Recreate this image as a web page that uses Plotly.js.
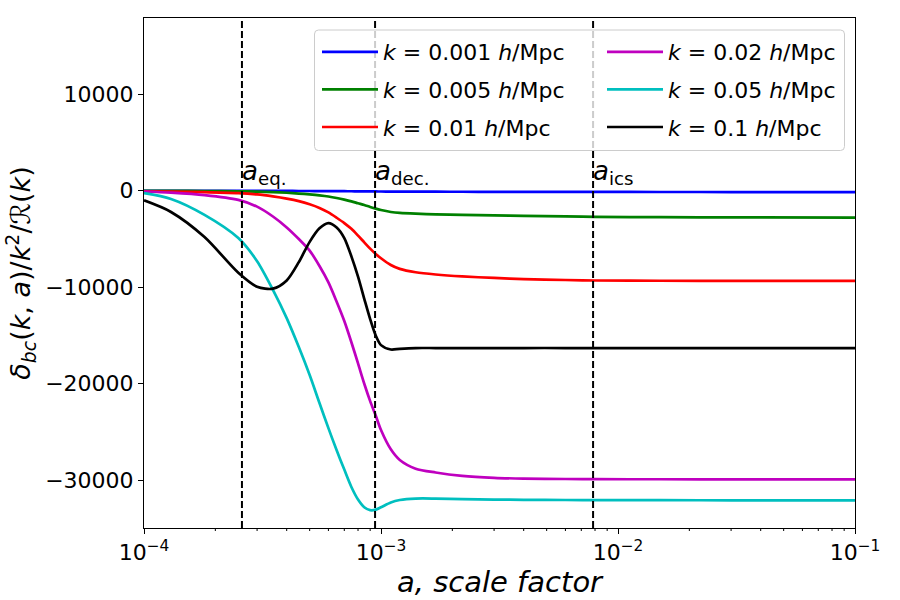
<!DOCTYPE html>
<html>
<head>
<meta charset="utf-8">
<script src="https://cdn.plot.ly/plotly-3.0.1.min.js"></script>
<style>html,body{margin:0;padding:0;background:#fff;}#chart{width:900px;height:600px;}</style>
</head>
<body>
<div id="chart"></div>
<script>
// scale factor grid
const scaleFactor = [1e-4, 1.3e-4, 1.8e-4, 2.5e-4, 3e-4, 3.5e-4, 4e-4, 4.5e-4, 5e-4, 5.5e-4, 6e-4, 6.5e-4, 7e-4, 7.5e-4, 8e-4, 8.5e-4, 9e-4, 9.5e-4, 1e-3, 1.1e-3, 1.2e-3, 1.4e-3, 1.7e-3, 2.2e-3, 3e-3, 4e-3, 6e-3, 8e-3, 1.5e-2, 3e-2, 1e-1];

const k0001 = [0, 0, 0, -5, -10, -15, -20, -25, -30, -35, -40, -45, -50, -55, -60, -65, -70, -75, -80, -85, -90, -95, -100, -105, -110, -115, -120, -125, -130, -135, -140];
const k0005 = [-10, -15, -30, -60, -100, -150, -210, -290, -380, -480, -600, -750, -920, -1100, -1300, -1480, -1680, -1850, -2000, -2200, -2300, -2380, -2440, -2500, -2560, -2610, -2660, -2700, -2740, -2760, -2780];
const k001 = [-60, -90, -150, -240, -380, -590, -820, -1080, -1400, -1780, -2250, -2800, -3350, -3950, -4650, -5350, -6000, -6550, -7000, -7700, -8100, -8450, -8680, -8880, -9040, -9150, -9250, -9300, -9330, -9340, -9350];
const k002 = [-80, -200, -450, -950, -1650, -2670, -3800, -5000, -6200, -7800, -9500, -11500, -13500, -15700, -17900, -20000, -21800, -23300, -24800, -26800, -27900, -28800, -29200, -29550, -29750, -29830, -29870, -29890, -29900, -29910, -29920];
const k005 = [-250, -850, -2500, -4900, -7300, -10270, -13200, -16200, -19100, -22000, -24600, -26900, -28900, -30700, -32000, -32800, -33100, -33050, -32800, -32300, -32050, -31900, -31900, -31950, -32000, -32030, -32050, -32060, -32070, -32080, -32090];
const k01 = [-1000, -2200, -4800, -8500, -9950, -10150, -9300, -7400, -5300, -3900, -3350, -3800, -4900, -6800, -8900, -11200, -13300, -15000, -16000, -16450, -16380, -16300, -16300, -16300, -16300, -16300, -16300, -16310, -16310, -16320, -16320];

const seriesNames = ['<i>k</i> = 0.001 <i>h</i>/Mpc', '<i>k</i> = 0.005 <i>h</i>/Mpc', '<i>k</i> = 0.01 <i>h</i>/Mpc', '<i>k</i> = 0.02 <i>h</i>/Mpc', '<i>k</i> = 0.05 <i>h</i>/Mpc', '<i>k</i> = 0.1 <i>h</i>/Mpc'];
const seriesColors = ['#0000ff', '#008000', '#ff0000', '#bf00bf', '#00bfbf', '#000000'];
const seriesValues = [k0001, k0005, k001, k002, k005, k01];

// epoch markers
const epochNames = ['<i>a</i><sub>eq.</sub>', '<i>a</i><sub>dec.</sub>', '<i>a</i><sub>ics</sub>'];
const epochValues = [2.59e-4, 9.44e-4, 7.85e-3];

// tick positions on the log axis: majors at decades, minors at 2..9 per decade
const decades = [1e-4, 1e-3, 1e-2, 1e-1];
const decadeLabels = ['10<sup>−4</sup>', '10<sup>−3</sup>', '10<sup>−2</sup>', '10<sup>−1</sup>'];
const minorDigits = [2, 3, 4, 5, 6, 7, 8, 9];
const minorTicks = [];
decades.slice(0, 3).forEach(d => minorDigits.forEach(m => minorTicks.push(d * m)));

const FONT = 'DejaVu Sans, sans-serif';

const traces = seriesValues.map((v, i) => ({
  x: scaleFactor, y: v, type: 'scatter', mode: 'lines',
  name: seriesNames[i],
  line: {color: seriesColors[i], width: 2.7, shape: 'spline', smoothing: 0.8},
  legend: i < 3 ? 'legend' : 'legend2',
  legendgroup: 'g' + i,
  showlegend: true,
  hoverinfo: 'skip'
}));

// plot area in px
const L = 144, R = 855, T = 18, B = 528;
const W = 900, H = 600;
function px2paperX(p) { return (p - L) / (R - L); }
function px2paperY(p) { return (B - p) / (B - T); }

// legend frame (rounded)
function roundedRect(x0, y0, x1, y1, r) {
  const X = px2paperX, Y = px2paperY;
  const rx = r / (R - L), ry = r / (B - T);
  const a = X(x0), b = X(x1), c = Y(y0), d = Y(y1);
  return `M ${a + rx} ${c} L ${b - rx} ${c} Q ${b} ${c} ${b} ${c - ry} L ${b} ${d + ry} Q ${b} ${d} ${b - rx} ${d} L ${a + rx} ${d} Q ${a} ${d} ${a} ${d + ry} L ${a} ${c - ry} Q ${a} ${c} ${a + rx} ${c} Z`;
}

const shapes = epochValues.map(v => ({
  type: 'line', xref: 'x', yref: 'paper', x0: v, x1: v, y0: 0, y1: 1,
  line: {color: '#000000', width: 2, dash: '7px,3px'}, layer: 'above'
}));
shapes.push({
  type: 'path', xref: 'paper', yref: 'paper', path: roundedRect(314.5, 30, 844.5, 150.5, 4),
  fillcolor: 'rgba(255,255,255,0.8)', line: {color: '#cccccc', width: 1}, layer: 'above'
});
// minor tick marks below the x axis (3 px long)
minorTicks.forEach(v => shapes.push({
  type: 'line', xref: 'x', yref: 'paper', x0: v, x1: v, y0: 0, y1: 0, ysizemode: 'pixel', yanchor: 0,
  y0: 0, y1: -3, line: {color: '#000', width: 1}, layer: 'above'
}));

const annotations = epochValues.map((v, i) => ({
  x: Math.log10(v), xref: 'x', y: px2paperY(172), yref: 'paper',
  text: epochNames[i], showarrow: false, xanchor: 'left', yanchor: 'middle', xshift: -2,
  font: {family: FONT, size: 26, color: '#000'}
}));

const legendCommon = {
  bgcolor: 'rgba(0,0,0,0)', borderwidth: 0,
  font: {family: FONT, size: 22, color: '#000'},
  xanchor: 'left', yanchor: 'top', traceorder: 'grouped', tracegroupgap: 6,
  itemwidth: 56,
  itemclick: false, itemdoubleclick: false
};

const layout = {
  width: W, height: H,
  margin: {l: L, r: W - R, t: T, b: H - B, pad: 0},
  paper_bgcolor: '#fff', plot_bgcolor: '#fff',
  font: {family: FONT, size: 22, color: '#000'},
  showlegend: true,
  xaxis: {
    type: 'log', range: [-4, -1], tickmode: 'array', tickvals: decades, ticktext: decadeLabels,
    showgrid: false, zeroline: false, showline: true, mirror: true,
    linecolor: '#000', linewidth: 1,
    ticks: 'outside', ticklen: 5, tickwidth: 1, tickcolor: '#000',
    tickfont: {family: FONT, size: 22, color: '#000'},
    title: {text: '<i>a, scale factor</i>', font: {family: FONT, size: 29, color: '#000'}, standoff: 5}
  },
  yaxis: {
    range: [-34950, 17900], tick0: 0, dtick: 10000, exponentformat: 'none', tickformat: 'd',
    showgrid: false, zeroline: false, showline: true, mirror: true,
    linecolor: '#000', linewidth: 1,
    ticks: 'outside', ticklen: 5, tickwidth: 1, tickcolor: '#000',
    tickfont: {family: FONT, size: 22, color: '#000'},
    title: {text: '<i>δ</i><sub><i>bc</i></sub>(<i>k</i>, <i>a</i>)/<i>k</i><sup>2</sup>/ℛ(<i>k</i>)', font: {family: FONT, size: 27, color: '#000'}, standoff: 6}
  },
  legend: Object.assign({}, legendCommon, {x: px2paperX(317), y: px2paperY(31)}),
  legend2: Object.assign({}, legendCommon, {x: px2paperX(602), y: px2paperY(31)}),
  shapes: shapes,
  annotations: annotations
};

Plotly.newPlot('chart', traces, layout, {displayModeBar: false, staticPlot: true});
</script>
</body>
</html>
